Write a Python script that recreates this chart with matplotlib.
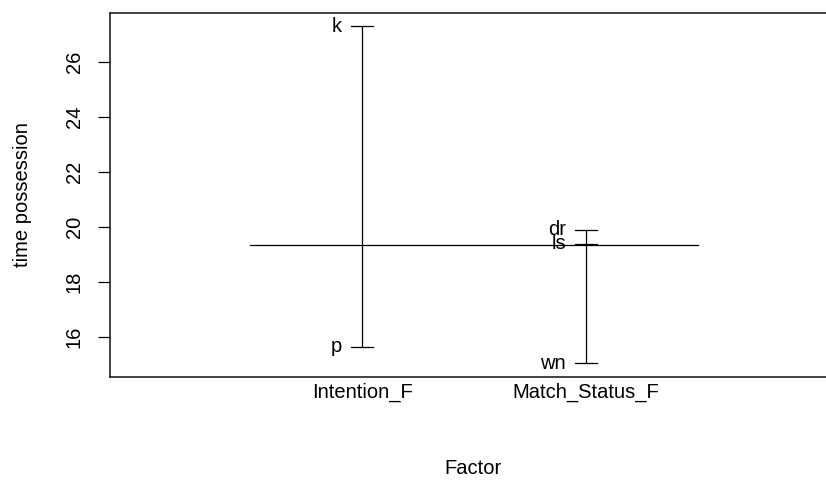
import matplotlib
matplotlib.use("Agg")
import matplotlib.pyplot as plt

plt.rcParams['font.family'] = ['Liberation Sans', 'DejaVu Sans']

factors = ["Intention_F", "Match_Status_F"]
levels = [["k", "p"], ["dr", "ls", "wn"]]
level_means = [[27.29, 15.65], [19.89, 19.39, 15.04]]
grand_mean = 19.35
yticks = [16, 18, 20, 22, 24, 26]

W, H = 826, 480
fig = plt.figure(figsize=(W / 100, H / 100), dpi=100)
left, right, top, bottom = 110, 836, 13, 377
ax = fig.add_axes([left / W, 1 - bottom / H, (right - left) / W, (bottom - top) / H])

fs = 14.5
lw = 0.9
cap = 0.05
for i, (levs, means) in enumerate(zip(levels, level_means)):
    x = i + 1
    ax.plot([x, x], [min(means), max(means)], color="black", lw=lw)
    for lab, m in zip(levs, means):
        ax.plot([x - cap, x + cap], [m, m], color="black", lw=lw)
        ax.text(x - 0.09, m, lab, ha="right", va="center", fontsize=fs)

ax.plot([0.5, len(factors) + 0.5], [grand_mean, grand_mean], color="black", lw=lw)

ax.set_xlim(-0.125, 3.116)
ax.set_ylim(14.545, 27.78)
ax.set_xticks(range(1, len(factors) + 1))
ax.set_xticklabels(factors, fontsize=fs)
ax.tick_params(axis="x", length=0, pad=4)
ax.set_yticks(yticks)
ax.set_yticklabels([str(t) for t in yticks], fontsize=fs, rotation=90, va="center")
ax.tick_params(axis="y", length=9, width=lw, pad=10)
for s in ax.spines.values():
    s.set_linewidth(1.2)
    s.set_color("#222222")
ax.spines["right"].set_visible(False)

ax.set_ylabel("time possession", fontsize=fs)
ax.yaxis.set_label_coords((22 - left) / (right - left), 0.5)
ax.set_xlabel("Factor", fontsize=fs)
ax.xaxis.set_label_coords(0.5, (bottom - 468) / (bottom - top))
ax.xaxis.label.set_va("center")
ax.yaxis.label.set_va("center")

fig.savefig("out.png", dpi=100)
